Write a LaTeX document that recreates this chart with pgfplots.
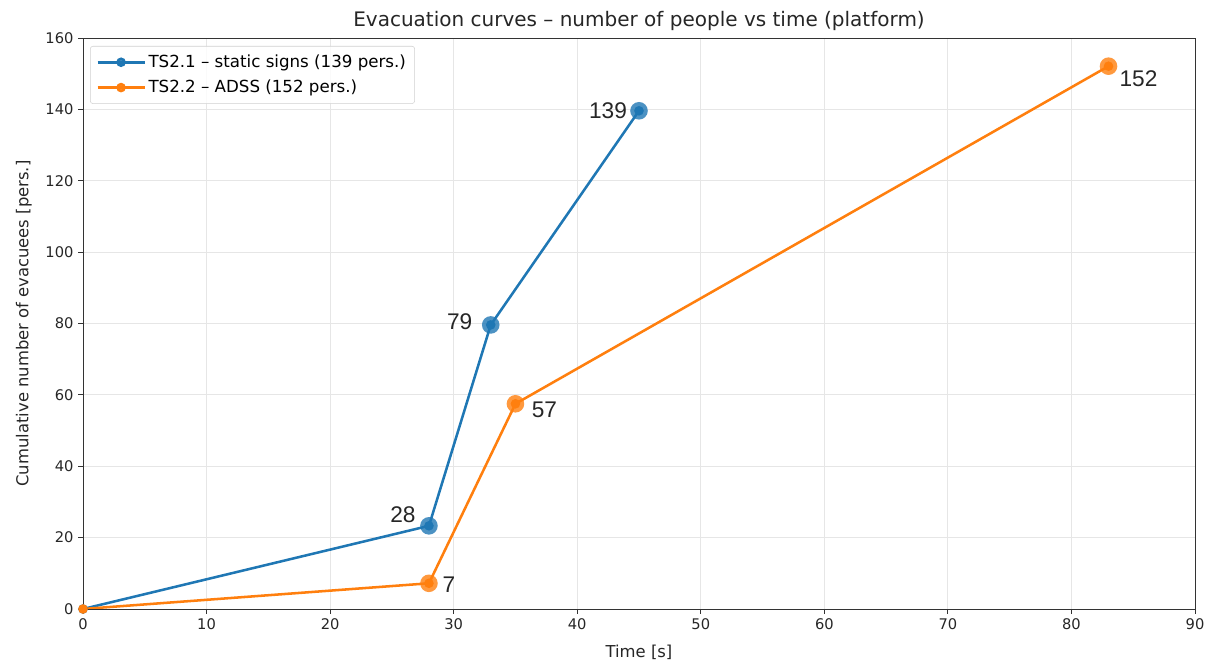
\documentclass[border=0pt]{standalone}
\usepackage{pgfplots}
\pgfplotsset{compat=1.18}
\usepackage{fontspec}
\setmainfont{DejaVu Sans}
\newfontfamily\annfont{Liberation Sans}
\definecolor{mblue}{HTML}{1F77B4}
\definecolor{morange}{HTML}{FF7F0E}
\definecolor{gridc}{HTML}{E6E6E6}

\pgfplotstableread{
x y
0 0
28 23.3
33 79.6
45 139.6
}\blueT
\pgfplotstableread{
x y
0 0
28 7.2
35 57.5
83 152.1
}\orangeT

\begin{document}
\begin{tikzpicture}
\useasboundingbox (-62.25pt,-40.5pt) rectangle (843.75pt,456.75pt);
\begin{axis}[
  at={(0,0)}, anchor=south west,
  scale only axis, width=834pt, height=428.25pt,
  xmin=0, xmax=90, ymin=0, ymax=160,
  xtick={0,10,...,90}, ytick={0,20,...,160},
  grid=major,
  grid style={gridc, line width=0.6pt},
  axis line style={black!80, line width=0.6pt},
  tick style={black!80, line width=0.6pt},
  tick align=outside, tick pos=left,
  major tick length=3.6pt,
  every tick label/.append style={font=\fontsize{11}{13}\selectfont, text=black!85},
  /pgf/number format/assume math mode=true,
  xlabel={Time [s]},
  ylabel={Cumulative number of evacuees [pers.]},
  label style={font=\fontsize{12.3}{14}\selectfont, text=black!85},
  xlabel style={at={(axis description cs:0.5,-0.0753)}, anchor=center},
  ylabel style={at={(axis description cs:-0.0531,0.5)}, anchor=center},
  title={Evacuation curves -- number of people vs time (platform)},
  title style={font=\fontsize{15}{17}\selectfont, text=black!85, at={(axis description cs:0.5,1.0333)}, anchor=center, yshift=-7.5pt},
  legend style={at={(0.0063,0.986)}, anchor=north west,
    draw=black!18, rounded corners=2pt, fill=white, fill opacity=0.8, text opacity=1,
    font=\fontsize{12.5}{14}\selectfont, row sep=4pt, inner sep=4.5pt},
  legend cell align=left,
  legend image code/.code={
    \draw[#1, mark repeat=2, mark phase=2] plot coordinates {(0cm,0cm) (0.62cm,0cm) (1.24cm,0cm)};
  },
]
\addplot[mblue, line width=1.9pt, mark=*, mark size=2.6pt] table[x=x,y=y] {\blueT};
\addlegendentry{TS2.1 -- static signs (139 pers.)}
\addplot[morange, line width=1.9pt, mark=*, mark size=2.6pt] table[x=x,y=y] {\orangeT};
\addlegendentry{TS2.2 -- ADSS (152 pers.)}
\addplot[only marks, mark=*, mark size=6.6pt, mblue, fill opacity=0.8, draw opacity=0, forget plot]
  table[x=x,y=y] {
x y
28 23.3
33 79.6
45 139.6
};
\addplot[only marks, mark=*, mark size=6.6pt, morange, fill opacity=0.8, draw opacity=0, forget plot]
  table[x=x,y=y] {
x y
28 7.2
35 57.5
83 152.1
};
\begin{scope}[font=\annfont\fontsize{17}{20}\selectfont]
\node[text=black!85] at ([xshift=-19.5pt,yshift=8.25pt]axis cs:28,23.3) {28};
\node[text=black!85] at ([xshift=-23.25pt,yshift=2.25pt]axis cs:33,79.6) {79};
\node[text=black!85] at ([xshift=-23.25pt,yshift=0pt]axis cs:45,139.6) {139};
\node[text=black!85] at ([xshift=15pt,yshift=-0.75pt]axis cs:28,7.2) {7};
\node[text=black!85] at ([xshift=21.75pt,yshift=-4.5pt]axis cs:35,57.5) {57};
\node[text=black!85] at ([xshift=22.5pt,yshift=-9.75pt]axis cs:83,152.1) {152};
\end{scope}
\end{axis}
\end{tikzpicture}
\end{document}
